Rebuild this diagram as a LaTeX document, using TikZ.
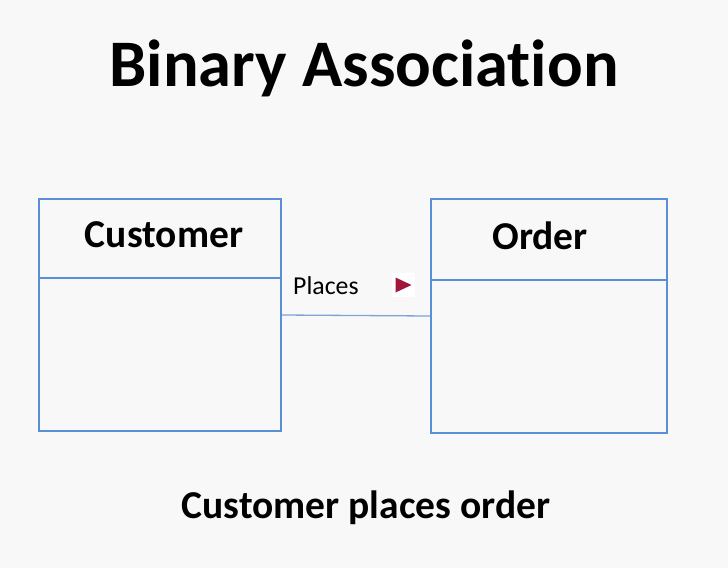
\documentclass[tikz,border=0pt]{standalone}
\usepackage{fontspec}
\setmainfont[Ligatures={NoCommon}]{Carlito}
\usetikzlibrary{calc}
\definecolor{bgc}{HTML}{F8F8F8}
\definecolor{boxblue}{HTML}{5A8FD8}
\definecolor{linkblue}{HTML}{7FA3D6}
\definecolor{arrowred}{HTML}{A0173A}
\tikzset{
  classbox/.style={draw=boxblue, line width=2pt, fill=none, anchor=north west, inner sep=0pt},
  divider/.style={draw=boxblue, line width=1.5pt},
  link/.style={draw=linkblue, line width=1.3pt},
  titletext/.style={anchor=base, inner sep=0pt, font=\fontsize{66.5}{78}\selectfont\bfseries},
  classname/.style={anchor=base, inner sep=0pt, font=\fontsize{39.5}{47}\selectfont\bfseries},
  captext/.style={anchor=base, inner sep=0pt, font=\fontsize{39.5}{46}\selectfont\bfseries},
  assoctext/.style={anchor=base west, inner sep=0pt, font=\fontsize{25.8}{30}\selectfont},
}
\begin{document}
\begin{tikzpicture}[x=1pt,y=-1pt]
\fill[bgc] (0,0) rectangle (728,568);
\useasboundingbox (0,0) rectangle (728,568);
\node[titletext] (title) at (364,86) {Binary Association};
\node[classbox, minimum width=242pt, minimum height=232pt] (cust) at (38,198) {};
\node[classbox, minimum width=236pt, minimum height=234pt] (ord) at (430,198) {};
\draw[divider] ($(cust.north west)+(0,80)$) -- ($(cust.north east)+(0,80)$);
\draw[divider] ($(ord.north west)+(0,82)$) -- ($(ord.north east)+(0,82)$);
\coordinate (la) at ($(cust.north east)+(0,117)$);
\coordinate (lb) at ($(ord.north west)+(0,118)$);
\draw[link] (la) -- (lb);
\node[classname] (custname) at (164,247) {Customer};
\node[classname] (ordname) at (540,249) {Order};
\node[assoctext] (places) at (293,294) {Places};
\node[fill=white, minimum width=23pt, minimum height=24pt, inner sep=0pt] (arrbg) at (403.5,285) {};
\fill[arrowred] ($(arrbg.center)+(-8,-7.5)$) -- ($(arrbg.center)+(8,0)$) -- ($(arrbg.center)+(-8,7.5)$) -- cycle;
\node[captext] (caption) at (366,518) {Customer places order};
\end{tikzpicture}
\end{document}
